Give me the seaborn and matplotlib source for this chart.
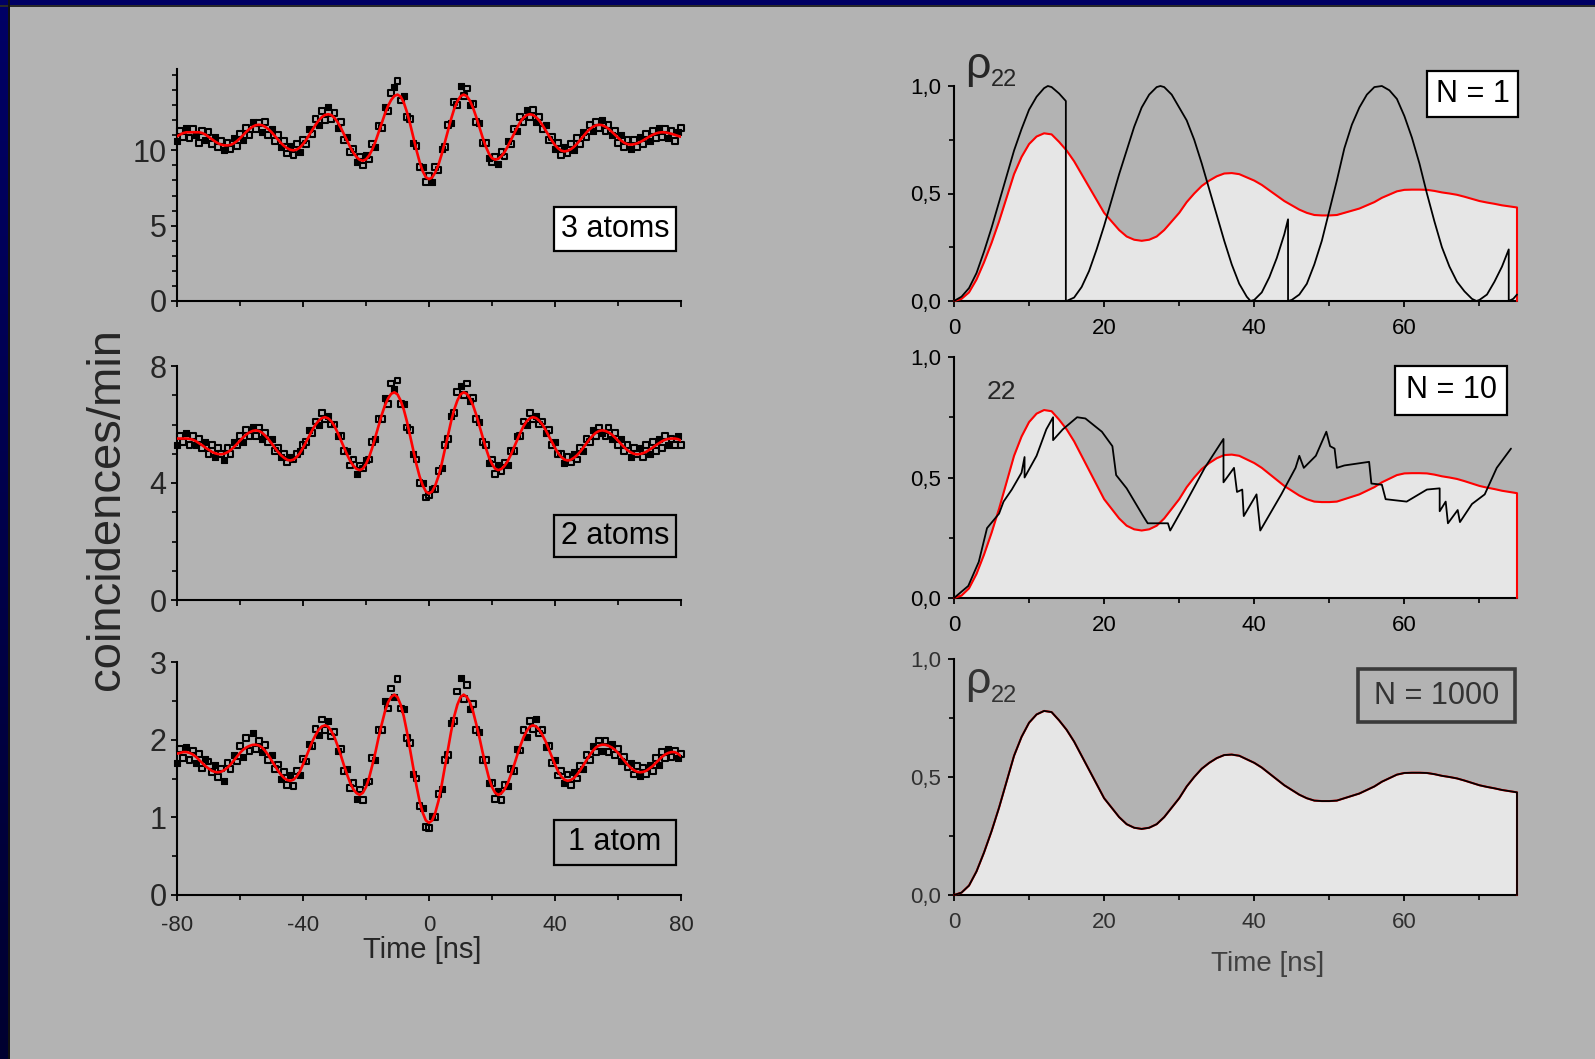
import numpy as np
import matplotlib
matplotlib.use("Agg")
import matplotlib.pyplot as plt
import seaborn as sns
from matplotlib.patches import Rectangle
from matplotlib.ticker import FixedLocator, MultipleLocator

# ---------------- data: left column (coincidences vs. time delay) ----------------
time_left = np.arange(-80, 81, 1)

fit_3atoms = [
    10.93, 11.05, 11.15, 11.20, 11.20, 11.20, 11.20, 11.20, 11.15, 11.05,
    10.90, 10.75, 10.60, 10.47, 10.38, 10.33, 10.33, 10.36, 10.46, 10.61,
    10.80, 11.02, 11.23, 11.42, 11.57, 11.67, 11.70, 11.67, 11.56, 11.41,
    11.21, 10.97, 10.73, 10.49, 10.29, 10.14, 10.03, 10.00, 10.05, 10.19,
    10.41, 10.70, 11.03, 11.37, 11.70, 11.99, 12.21, 12.35, 12.40, 12.34,
    12.15, 11.87, 11.50, 11.07, 10.64, 10.21, 9.84, 9.56, 9.37, 9.31,
    9.40, 9.66, 10.06, 10.58, 11.20, 11.81, 12.42, 12.95, 13.35, 13.61,
    13.70, 13.57, 13.17, 12.54, 11.76, 10.90, 10.03, 9.25, 8.62, 8.22,
    8.09, 8.20, 8.54, 9.04, 9.72, 10.50, 11.29, 12.07, 12.75, 13.25,
    13.59, 13.70, 13.60, 13.29, 12.81, 12.21, 11.54, 10.87, 10.27, 9.79,
    9.48, 9.38, 9.44, 9.62, 9.89, 10.26, 10.68, 11.10, 11.52, 11.89,
    12.16, 12.34, 12.40, 12.35, 12.20, 11.98, 11.68, 11.34, 10.99, 10.65,
    10.35, 10.13, 9.98, 9.93, 9.97, 10.07, 10.23, 10.44, 10.69, 10.94,
    11.19, 11.40, 11.56, 11.66, 11.70, 11.67, 11.57, 11.43, 11.24, 11.04,
    10.84, 10.65, 10.50, 10.41, 10.38, 10.40, 10.46, 10.55, 10.66, 10.79,
    10.92, 11.03, 11.12, 11.18, 11.20, 11.19, 11.15, 11.10, 11.03, 10.96,
    10.90]
counts_3atoms = [
    10.6, 11.3, 10.9, 11.5, 10.8, 11.4, 11.0, 10.5, 11.3, 10.7,
    11.2, 10.4, 10.9, 10.2, 10.6, 10.0, 10.5, 10.1, 10.8, 10.3,
    11.1, 10.7, 11.5, 11.0, 11.9, 11.4, 11.8, 11.2, 11.9, 11.0,
    11.4, 10.6, 11.0, 10.2, 10.6, 9.8, 10.3, 9.7, 10.4, 9.9,
    10.7, 10.4, 11.4, 11.1, 12.1, 11.7, 12.6, 12.0, 12.9, 12.1,
    12.5, 11.5, 11.9, 10.7, 10.9, 9.9, 10.1, 9.2, 9.6, 9.0,
    9.7, 9.4, 10.4, 10.2, 11.6, 11.5, 12.9, 12.6, 13.8, 14.2,
    14.6, 13.3, 13.6, 12.2, 12.1, 10.5, 10.3, 8.9, 8.9, 7.9,
    8.3, 7.9, 8.9, 8.7, 10.1, 10.2, 11.7, 11.8, 13.2, 13.0,
    14.3, 13.6, 14.1, 13.0, 13.1, 11.9, 11.8, 10.5, 10.5, 9.5,
    9.2, 9.6, 9.1, 9.9, 9.6, 10.6, 10.4, 11.4, 11.3, 12.2,
    11.9, 12.7, 12.2, 12.7, 11.9, 12.2, 11.4, 11.7, 10.7, 10.9,
    10.1, 10.5, 9.7, 10.2, 9.8, 10.4, 10.0, 10.8, 10.4, 11.2,
    10.9, 11.7, 11.3, 11.9, 11.5, 12.0, 11.3, 11.7, 11.0, 11.3,
    10.5, 11.0, 10.2, 10.7, 10.1, 10.7, 10.2, 10.9, 10.4, 11.1,
    10.6, 11.3, 10.8, 11.5, 10.9, 11.4, 10.8, 11.3, 10.6, 11.2,
    11.5]

fit_2atoms = [
    5.52, 5.52, 5.52, 5.52, 5.51, 5.48, 5.43, 5.36, 5.29, 5.21,
    5.14, 5.07, 5.02, 4.99, 4.98, 5.00, 5.05, 5.12, 5.22, 5.33,
    5.45, 5.56, 5.66, 5.73, 5.78, 5.80, 5.78, 5.72, 5.62, 5.50,
    5.36, 5.21, 5.07, 4.95, 4.86, 4.79, 4.77, 4.80, 4.89, 5.02,
    5.20, 5.41, 5.61, 5.82, 6.00, 6.13, 6.22, 6.25, 6.21, 6.11,
    5.94, 5.72, 5.47, 5.22, 4.97, 4.75, 4.59, 4.48, 4.44, 4.49,
    4.65, 4.89, 5.21, 5.58, 5.96, 6.33, 6.65, 6.89, 7.05, 7.10,
    7.03, 6.82, 6.51, 6.10, 5.61, 5.13, 4.64, 4.23, 3.92, 3.71,
    3.64, 3.71, 3.92, 4.23, 4.64, 5.13, 5.61, 6.10, 6.51, 6.82,
    7.03, 7.10, 7.05, 6.89, 6.65, 6.33, 5.96, 5.58, 5.21, 4.89,
    4.65, 4.49, 4.44, 4.48, 4.59, 4.75, 4.97, 5.22, 5.47, 5.72,
    5.94, 6.11, 6.21, 6.25, 6.22, 6.13, 6.00, 5.82, 5.61, 5.41,
    5.20, 5.02, 4.89, 4.80, 4.77, 4.79, 4.86, 4.95, 5.07, 5.21,
    5.36, 5.50, 5.62, 5.72, 5.78, 5.80, 5.78, 5.73, 5.66, 5.56,
    5.45, 5.33, 5.22, 5.12, 5.05, 5.00, 4.98, 4.99, 5.02, 5.07,
    5.14, 5.21, 5.29, 5.36, 5.43, 5.48, 5.51, 5.52, 5.52, 5.50,
    5.45]
counts_2atoms = [
    5.3, 5.6, 5.4, 5.7, 5.3, 5.6, 5.3, 5.5, 5.2, 5.4,
    5.0, 5.3, 4.9, 5.2, 5.0, 4.8, 5.2, 5.0, 5.4, 5.3,
    5.6, 5.4, 5.8, 5.6, 5.9, 5.6, 5.9, 5.5, 5.7, 5.4,
    5.5, 5.1, 5.2, 4.9, 5.0, 4.7, 4.9, 4.8, 5.0, 5.1,
    5.3, 5.4, 5.8, 5.7, 6.1, 6.0, 6.4, 6.2, 6.3, 6.0,
    6.0, 5.6, 5.6, 5.1, 5.1, 4.6, 4.8, 4.3, 4.6, 4.5,
    4.8, 4.8, 5.4, 5.5, 6.2, 6.2, 6.9, 6.7, 7.4, 7.2,
    7.5, 6.7, 6.7, 5.9, 5.8, 5.0, 4.8, 4.0, 4.0, 3.5,
    3.6, 3.8, 3.8, 4.4, 4.5, 5.3, 5.5, 6.3, 6.4, 7.1,
    7.3, 7.0, 7.4, 6.8, 6.9, 6.2, 6.1, 5.4, 5.3, 4.7,
    4.8, 4.3, 4.6, 4.4, 4.7, 4.6, 5.1, 5.1, 5.6, 5.6,
    6.1, 6.0, 6.4, 6.2, 6.3, 6.0, 6.1, 5.7, 5.8, 5.3,
    5.4, 5.0, 5.0, 4.7, 4.9, 4.7, 5.0, 4.8, 5.2, 5.1,
    5.5, 5.4, 5.8, 5.6, 5.9, 5.7, 5.6, 5.9, 5.5, 5.7,
    5.3, 5.5, 5.1, 5.3, 4.9, 5.2, 5.0, 5.2, 4.9, 5.3,
    5.0, 5.4, 5.1, 5.5, 5.2, 5.6, 5.3, 5.5, 5.3, 5.6,
    5.3]

fit_1atom = [
    1.82, 1.83, 1.84, 1.84, 1.83, 1.81, 1.78, 1.74, 1.70, 1.66,
    1.63, 1.60, 1.585, 1.58, 1.587, 1.608, 1.64, 1.68, 1.73, 1.78,
    1.83, 1.87, 1.90, 1.92, 1.933, 1.935, 1.925, 1.90, 1.855, 1.80,
    1.735, 1.67, 1.605, 1.55, 1.505, 1.48, 1.47, 1.485, 1.526, 1.59,
    1.68, 1.78, 1.88, 1.98, 2.06, 2.13, 2.17, 2.185, 2.167, 2.11,
    2.03, 1.92, 1.80, 1.67, 1.55, 1.44, 1.36, 1.31, 1.29, 1.316,
    1.39, 1.51, 1.67, 1.84, 2.03, 2.20, 2.36, 2.48, 2.55, 2.58,
    2.547, 2.45, 2.30, 2.10, 1.87, 1.64, 1.41, 1.21, 1.06, 0.96,
    0.93, 0.96, 1.06, 1.21, 1.41, 1.64, 1.87, 2.10, 2.30, 2.45,
    2.547, 2.58, 2.55, 2.48, 2.36, 2.20, 2.03, 1.84, 1.67, 1.51,
    1.39, 1.316, 1.29, 1.31, 1.36, 1.44, 1.55, 1.67, 1.80, 1.92,
    2.03, 2.11, 2.167, 2.185, 2.17, 2.13, 2.06, 1.98, 1.88, 1.78,
    1.68, 1.59, 1.526, 1.485, 1.47, 1.48, 1.505, 1.55, 1.605, 1.67,
    1.735, 1.80, 1.855, 1.90, 1.925, 1.935, 1.933, 1.92, 1.90, 1.87,
    1.83, 1.78, 1.73, 1.68, 1.64, 1.608, 1.587, 1.58, 1.585, 1.60,
    1.63, 1.66, 1.70, 1.74, 1.78, 1.81, 1.83, 1.84, 1.84, 1.82,
    1.79]
counts_1atom = [
    1.70, 1.88, 1.76, 1.90, 1.74, 1.86, 1.70, 1.82, 1.63, 1.75,
    1.72, 1.58, 1.68, 1.52, 1.63, 1.47, 1.70, 1.62, 1.80, 1.72,
    1.92, 1.78, 2.02, 1.85, 2.08, 1.88, 1.98, 1.84, 1.93, 1.74,
    1.80, 1.62, 1.68, 1.50, 1.58, 1.42, 1.55, 1.40, 1.60, 1.55,
    1.75, 1.72, 1.95, 1.92, 2.14, 2.06, 2.26, 2.12, 2.24, 2.04,
    2.10, 1.86, 1.88, 1.60, 1.62, 1.38, 1.44, 1.24, 1.36, 1.22,
    1.45, 1.46, 1.76, 1.74, 2.12, 2.12, 2.50, 2.40, 2.66, 2.55,
    2.78, 2.40, 2.40, 2.02, 1.96, 1.56, 1.50, 1.15, 1.12, 0.88,
    0.86, 1.02, 1.00, 1.30, 1.36, 1.74, 1.80, 2.22, 2.24, 2.62,
    2.80, 2.52, 2.70, 2.40, 2.46, 2.12, 2.10, 1.74, 1.74, 1.44,
    1.44, 1.24, 1.34, 1.22, 1.42, 1.40, 1.62, 1.60, 1.88, 1.86,
    2.12, 2.04, 2.24, 2.14, 2.26, 2.08, 2.12, 1.90, 1.92, 1.70,
    1.74, 1.54, 1.60, 1.44, 1.55, 1.42, 1.58, 1.50, 1.66, 1.62,
    1.80, 1.74, 1.92, 1.84, 1.99, 1.86, 1.98, 1.84, 1.94, 1.80,
    1.88, 1.72, 1.78, 1.64, 1.70, 1.55, 1.66, 1.53, 1.64, 1.56,
    1.68, 1.60, 1.76, 1.68, 1.84, 1.76, 1.88, 1.78, 1.86, 1.76,
    1.82]

# ---------------- data: right column (rho_22 simulations) ----------------
time_right = list(range(0, 76)) + [75]
rho_mean = [
    0.0, 0.01, 0.04, 0.10, 0.18, 0.27, 0.37, 0.48, 0.59, 0.67,
    0.73, 0.765, 0.78, 0.775, 0.74, 0.70, 0.65, 0.59, 0.53, 0.47,
    0.41, 0.37, 0.33, 0.30, 0.285, 0.28, 0.285, 0.30, 0.33, 0.37,
    0.41, 0.46, 0.50, 0.535, 0.56, 0.58, 0.593, 0.595, 0.59, 0.575,
    0.56, 0.54, 0.515, 0.49, 0.465, 0.445, 0.425, 0.41, 0.40, 0.398,
    0.398, 0.40, 0.41, 0.42, 0.43, 0.445, 0.46, 0.48, 0.495, 0.51,
    0.517, 0.518, 0.518, 0.517, 0.512, 0.505, 0.50, 0.494, 0.485, 0.475,
    0.465, 0.458, 0.452, 0.445, 0.44, 0.435, 0.0]

time_n1 = [0, 1, 2, 3, 4, 5, 6, 7, 8, 9, 10, 11, 12, 12.5, 13, 14, 14.9,
           14.9, 15, 16, 17, 18, 19, 20, 21, 22, 23, 24, 25, 26, 27, 27.5,
           28, 29, 30, 31, 32, 33, 34, 35, 36, 37, 38, 39, 39.5,
           40, 41, 42, 43, 44, 44.5,
           44.5, 45, 46, 47, 48, 49, 50, 51, 52, 53, 54, 55, 56, 57, 58, 59,
           60, 61, 62, 63, 64, 65, 66, 67, 68, 69, 69.6,
           70, 71, 72, 73, 73.9,
           73.9, 74.5, 75]
rho_n1 = [0.0, 0.02, 0.06, 0.13, 0.23, 0.34, 0.46, 0.58, 0.70, 0.80, 0.89, 0.95, 0.99, 1.0, 0.995, 0.965, 0.93,
          0.0, 0.0, 0.016, 0.065, 0.14, 0.24, 0.35, 0.47, 0.59, 0.70, 0.81, 0.90, 0.96, 0.995, 1.0,
          0.995, 0.96, 0.90, 0.84, 0.75, 0.64, 0.52, 0.40, 0.28, 0.17, 0.08, 0.02, 0.0,
          0.005, 0.04, 0.11, 0.20, 0.31, 0.38,
          0.0, 0.005, 0.03, 0.08, 0.17, 0.28, 0.42, 0.56, 0.71, 0.82, 0.90, 0.96, 0.995, 1.0, 0.98, 0.94,
          0.86, 0.76, 0.64, 0.50, 0.37, 0.25, 0.16, 0.09, 0.045, 0.01, 0.0,
          0.005, 0.03, 0.09, 0.16, 0.24,
          0.0, 0.01, 0.03]

time_n10 = [0, 1.9, 3.3, 4.4, 5.2, 6.0, 6.6, 7.7, 9.0, 9.4, 9.4, 11.0, 12.3, 13.2, 13.2,
            14.5, 16.4, 17.5, 19.7, 21.1, 21.6, 23.0, 25.2, 25.8, 28.5, 28.8, 30.7, 33.4,
            35.9, 35.9, 37.3, 37.7, 38.4, 38.6, 40.3, 40.8, 43.6, 45.5, 46.0, 46.6, 48.2,
            49.6, 50.1, 50.7, 51.0, 52.0, 55.3, 55.6, 57.0, 57.5, 60.3, 63.0, 64.7, 64.7,
            65.5, 65.8, 67.1, 67.4, 69.0, 70.7, 72.3, 74.2]
rho_n10 = [0.0, 0.05, 0.15, 0.29, 0.32, 0.35, 0.40, 0.45, 0.52, 0.585, 0.50, 0.59, 0.70, 0.75, 0.655,
           0.70, 0.75, 0.745, 0.69, 0.63, 0.51, 0.455, 0.34, 0.31, 0.31, 0.28, 0.385, 0.54,
           0.66, 0.48, 0.54, 0.44, 0.45, 0.34, 0.43, 0.28, 0.43, 0.54, 0.59, 0.54, 0.59,
           0.69, 0.63, 0.62, 0.54, 0.55, 0.565, 0.475, 0.47, 0.41, 0.40, 0.45, 0.455, 0.36,
           0.40, 0.31, 0.365, 0.315, 0.39, 0.43, 0.54, 0.62]

rho_n1000 = rho_mean

left_ylabel = "coincidences/min"
x_label = "Time [ns]"
right_ytick_labels = ["0,0", "0,5", "1,0"]

# ---------------- styling ----------------
sns.set_style("ticks")
plt.rcParams["font.family"] = ["Liberation Sans", "DejaVu Sans"]
BG = "#b3b3b3"
W, H = 1595, 1059

fig = plt.figure(figsize=(W / 100, H / 100), dpi=100, facecolor=BG)


def fx(px):
    return px / W


def fy(py):
    return 1 - py / H


def rect(x0, y0, x1, y1):
    return [fx(x0), fy(y1), (x1 - x0) / W, (y1 - y0) / H]


def style_axis(ax, color="black"):
    ax.set_facecolor("none")
    for s in ("top", "right"):
        ax.spines[s].set_visible(False)
    for s in ("left", "bottom"):
        ax.spines[s].set_linewidth(1.5)
        ax.spines[s].set_color(color)
    ax.tick_params(which="major", direction="out", length=4.5, width=1.3, color=color)
    ax.tick_params(which="minor", direction="out", length=3.5, width=1.2, color=color)
    ax.grid(False)


def left_panel(box, fit, counts, ylim, yticks, yminor, xlabels):
    ax = fig.add_axes(rect(*box))
    style_axis(ax)
    counts = np.asarray(counts)
    filled = (np.arange(len(time_left)) % 3) == 0
    # measured coincidences: a mixture of open and filled small squares
    sns.scatterplot(x=time_left[~filled], y=counts[~filled], ax=ax, marker="s", s=17,
                    facecolor="none", edgecolor="black", linewidth=1.5,
                    legend=False, zorder=3, clip_on=False)
    sns.scatterplot(x=time_left[filled], y=counts[filled], ax=ax, marker="s", s=13,
                    color="black", edgecolor="black", linewidth=0.8,
                    legend=False, zorder=3, clip_on=False)
    sns.lineplot(x=time_left, y=fit, ax=ax, color="#ff0000", linewidth=1.9,
                 legend=False, zorder=4)
    ax.set_xlim(-80, 80)
    ax.set_ylim(*ylim)
    ax.xaxis.set_major_locator(FixedLocator([-80, -40, 0, 40, 80]))
    ax.xaxis.set_minor_locator(FixedLocator([-60, -20, 20, 60]))
    ax.yaxis.set_major_locator(FixedLocator(yticks))
    ax.yaxis.set_minor_locator(MultipleLocator(yminor))
    ax.set_yticklabels([str(v) for v in yticks], fontsize=22)
    ax.tick_params(axis="y", pad=3)
    if xlabels:
        ax.set_xticklabels(["-80", "-40", "0", "40", "80"], fontsize=16)
        ax.tick_params(axis="x", pad=10)
    else:
        ax.set_xticklabels([])
    ax.set_xlabel("")
    ax.set_ylabel("")
    return ax


left_panel((177, 69, 681, 301), fit_3atoms, counts_3atoms, (0, 15.4), [0, 5, 10], 1, False)
left_panel((177, 366, 681, 600), fit_2atoms, counts_2atoms, (0, 8), [0, 4, 8], 1, False)
left_panel((177, 662, 681, 895), fit_1atom, counts_1atom, (0, 3), [0, 1, 2, 3], 0.5, True)


def right_panel(box, black_t, black_v, tcolor="black"):
    ax = fig.add_axes(rect(*box))
    style_axis(ax, color="black")
    ax.fill_between(time_right, 0, rho_mean, color="#e6e6e6", linewidth=0, zorder=1)
    sns.lineplot(x=time_right, y=rho_mean, ax=ax, color="#ff0000", linewidth=1.5,
                 estimator=None, sort=False, legend=False, zorder=3, clip_on=False)
    sns.lineplot(x=black_t, y=black_v, ax=ax, color="black", linewidth=1.3,
                 estimator=None, sort=False, legend=False, zorder=4, clip_on=False)
    ax.set_xlim(0, 75)
    ax.set_ylim(0, 1.0)
    ax.xaxis.set_major_locator(FixedLocator([0, 20, 40, 60]))
    ax.xaxis.set_minor_locator(FixedLocator([10, 30, 50, 70]))
    ax.yaxis.set_major_locator(FixedLocator([0, 0.5, 1.0]))
    ax.yaxis.set_minor_locator(FixedLocator([0.25, 0.75]))
    ax.set_xticklabels(["0", "20", "40", "60"], fontsize=16, color=tcolor)
    ax.set_yticklabels(right_ytick_labels, fontsize=16, color=tcolor)
    ax.tick_params(axis="x", pad=8)
    ax.tick_params(axis="y", pad=5)
    ax.set_xlabel("")
    ax.set_ylabel("")
    return ax


right_panel((954, 86, 1517, 301), time_n1, rho_n1)
right_panel((954, 357, 1517, 598), time_n10, rho_n10)
right_panel((954, 659, 1517, 895), time_right, rho_n1000, tcolor="#303030")


# ---------------- annotations ----------------
def label_box(x0, y0, x1, y1, text, fill, edge="black", lw=1.6, fs=22, color="black"):
    fig.add_artist(Rectangle((fx(x0), fy(y1)), (x1 - x0) / W, (y1 - y0) / H,
                             transform=fig.transFigure, facecolor=fill,
                             edgecolor=edge, linewidth=lw, zorder=5))
    fig.text(fx((x0 + x1) / 2), fy((y0 + y1) / 2), text, ha="center", va="center",
             fontsize=fs, color=color, zorder=6)


label_box(554, 207, 676, 251, "3 atoms", "white")
label_box(554, 515, 676, 557, "2 atoms", BG)
label_box(554, 820, 676, 865, "1 atom", BG)
label_box(1427, 71, 1518, 117, "N = 1", "white")
label_box(1395, 366, 1507, 415, "N = 10", "white")
label_box(1358, 669, 1515, 722, "N = 1000", BG, edge="#3a3a3a", lw=2.6, fs=22, color="#333333")

fig.text(fx(965), fy(78), "\u03c1", fontsize=32, ha="left", va="baseline")
fig.text(fx(991), fy(86), "22", fontsize=17, ha="left", va="baseline")
fig.text(fx(1001), fy(392), "22", fontsize=19, ha="center", va="center")
fig.text(fx(965), fy(693), "\u03c1", fontsize=32, ha="left", va="baseline", color="#333333")
fig.text(fx(991), fy(702), "22", fontsize=17, ha="left", va="baseline", color="#333333")

fig.text(fx(107), fy(509), left_ylabel, rotation=90, fontsize=34, ha="center", va="center")
fig.text(fx(422), fy(950), x_label, fontsize=21, ha="center", va="center")
fig.text(fx(1268), fy(964), x_label, fontsize=20, ha="center", va="center", color="#404040")

# ---------------- slide frame (navy border at top and left) ----------------
fig.add_artist(Rectangle((0, fy(5)), 1, 5 / H, transform=fig.transFigure,
                         facecolor="#000064", edgecolor="none", zorder=10))
fig.add_artist(Rectangle((0, fy(6.5)), 1, 1.5 / H, transform=fig.transFigure,
                         facecolor="#2a2a2a", edgecolor="none", zorder=10))
grad_ax = fig.add_axes([0, 0, 8 / W, 1])
grad_ax.imshow(np.linspace(0, 1, 256).reshape(-1, 1), aspect="auto",
               cmap=matplotlib.colors.LinearSegmentedColormap.from_list("navy", ["#000066", "#000030"]),
               extent=[0, 1, 0, 1])
grad_ax.axis("off")
fig.add_artist(Rectangle((fx(8), 0), 2 / W, 1, transform=fig.transFigure,
                         facecolor="#111111", edgecolor="none", zorder=10))

fig.savefig("out.png", dpi=100, facecolor=BG)
